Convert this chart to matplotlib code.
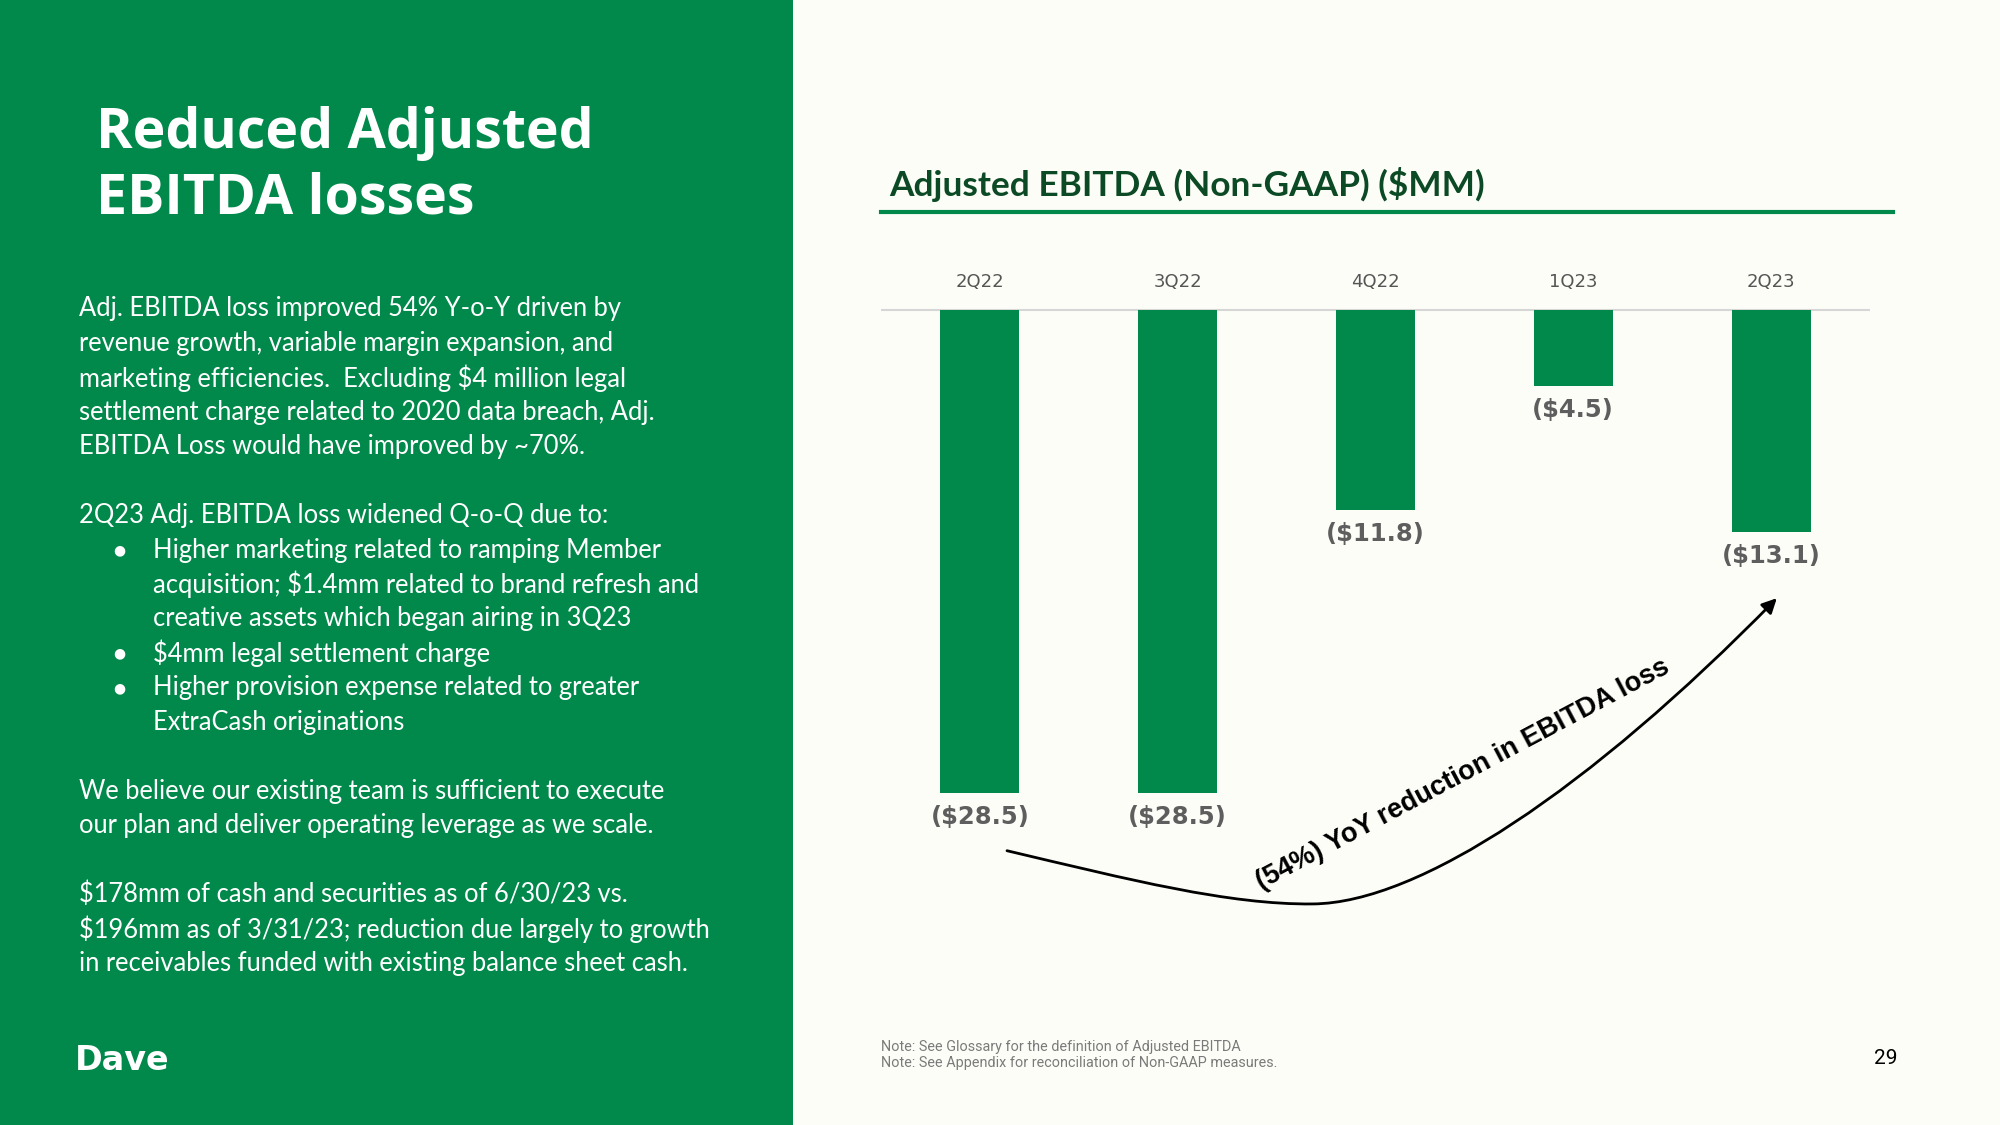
import matplotlib.pyplot as plt
from matplotlib.patches import Rectangle, FancyArrowPatch
from matplotlib.path import Path

# Data
quarters = ["2Q22", "3Q22", "4Q22", "1Q23", "2Q23"]
adj_ebitda = [-28.5, -28.5, -11.8, -4.5, -13.1]

GREEN = "#00894A"
DARK_GREEN = "#0B4A24"
BG = "#FDFDF8"
W, H = 2000, 1125


def fx(px):
    return px / W


def fy(py):
    return 1 - py / H


def main():
    fig = plt.figure(figsize=(20, 11.25), dpi=100, facecolor=BG)

    # Left green panel
    fig.patches.append(Rectangle((0, 0), 793 / W, 1, transform=fig.transFigure,
                                 facecolor=GREEN, edgecolor="none", zorder=0))

    # Slide title
    fig.text(fx(96), fy(148), "Reduced Adjusted", color="white", fontsize=40,
             fontweight="bold", family="Open Sans", va="baseline")
    fig.text(fx(96), fy(214), "EBITDA losses", color="white", fontsize=40,
             fontweight="bold", family="Open Sans", va="baseline")

    # Body text
    body = [
        (0, "Adj. EBITDA loss improved 54% Y-o-Y driven by"),
        (0, "revenue growth, variable margin expansion, and"),
        (0, "marketing efficiencies.  Excluding $4 million legal"),
        (0, "settlement charge related to 2020 data breach, Adj."),
        (0, "EBITDA Loss would have improved by ~70%."),
        (0, ""),
        (0, "2Q23 Adj. EBITDA loss widened Q-o-Q due to:"),
        (2, "Higher marketing related to ramping Member"),
        (1, "acquisition; $1.4mm related to brand refresh and"),
        (1, "creative assets which began airing in 3Q23"),
        (2, "$4mm legal settlement charge"),
        (2, "Higher provision expense related to greater"),
        (1, "ExtraCash originations"),
        (0, ""),
        (0, "We believe our existing team is sufficient to execute"),
        (0, "our plan and deliver operating leverage as we scale."),
        (0, ""),
        (0, "$178mm of cash and securities as of 6/30/23 vs."),
        (0, "$196mm as of 3/31/23; reduction due largely to growth"),
        (0, "in receivables funded with existing balance sheet cash."),
    ]
    y0, pitch = 309, 34.44
    for i, (lvl, line) in enumerate(body):
        y = y0 + i * pitch
        if lvl == 0:
            fig.text(fx(79), fy(y), line, color="white", fontsize=18.4,
                     family="Lato", va="center")
        else:
            if lvl == 2:
                fig.text(fx(119), fy(y), "\u25CF", color="white", fontsize=10,
                         family="DejaVu Sans", va="center", ha="center")
            fig.text(fx(153), fy(y), line, color="white", fontsize=18.4,
                     family="Lato", va="center")

    # Logo
    fig.text(fx(75), fy(1061), "Dave", color="white", fontsize=24,
             fontweight="bold", family="DejaVu Sans", va="center")

    # Chart title and underline
    fig.text(fx(889), fy(184), "Adjusted EBITDA (Non-GAAP) ($MM)", color=DARK_GREEN,
             fontsize=25.4, fontweight="bold", family="Lato", va="center")
    fig.add_artist(plt.Line2D([fx(881), fx(1893)], [fy(212), fy(212)],
                              transform=fig.transFigure, color=GREEN, lw=3))

    # Bar chart
    ax = fig.add_axes([0.4405, 0.18204, 0.4945, 0.58756])
    ax.set_facecolor("none")
    x = list(range(len(quarters)))
    ax.bar(x, adj_ebitda, width=0.4, color=GREEN, zorder=2)
    ax.axhline(0, color="#D6D6D6", lw=1.5, zorder=1)
    ax.set_xlim(-0.5, 4.5)
    ax.set_ylim(-36, 3)
    ax.axis("off")

    for i, (q, v) in enumerate(zip(quarters, adj_ebitda)):
        ax.text(i, 1.65, q, ha="center", va="center", fontsize=13,
                color="#555555", family="DejaVu Sans")
        ax.annotate(f"(${abs(v):.1f})", (i, v), xytext=(0, -17),
                    textcoords="offset points", ha="center", va="center",
                    fontsize=17.5, fontweight="bold", color="#5E5E5E",
                    family="DejaVu Sans")

    # Curved arrow from 2Q22 to 2Q23
    verts = [(0.137, -31.9), (0.754, -33.6), (1.259, -35.1), (1.684, -35.04),
             (2.22, -34.98), (3.08, -28.3), (4.029, -17.0)]
    codes = [Path.MOVETO] + [Path.CURVE4] * 6
    arrow = FancyArrowPatch(path=Path(verts, codes), arrowstyle="-|>",
                            mutation_scale=22, color="black", lw=2.0,
                            transform=ax.transData, clip_on=False)
    ax.add_patch(arrow)
    ax.text(2.44, -27.4, "(54%) YoY reduction in EBITDA loss", rotation=28,
            rotation_mode="anchor", ha="center", va="center", fontsize=19.6,
            fontweight="bold", family="Liberation Sans", color="black")

    # Footnotes and page number
    fig.text(fx(881), fy(1047), "Note: See Glossary for the definition of Adjusted EBITDA",
             fontsize=10.4, color="#7A7A7A", family="Roboto", va="center")
    fig.text(fx(881), fy(1063), "Note: See Appendix for reconciliation of Non-GAAP measures.",
             fontsize=10.4, color="#7A7A7A", family="Roboto", va="center")
    fig.text(fx(1886), fy(1059), "29", fontsize=15, color="black",
             family="Roboto", va="center", ha="center")

    fig.savefig("out.png", dpi=100, facecolor=BG)


if __name__ == "__main__":
    main()
